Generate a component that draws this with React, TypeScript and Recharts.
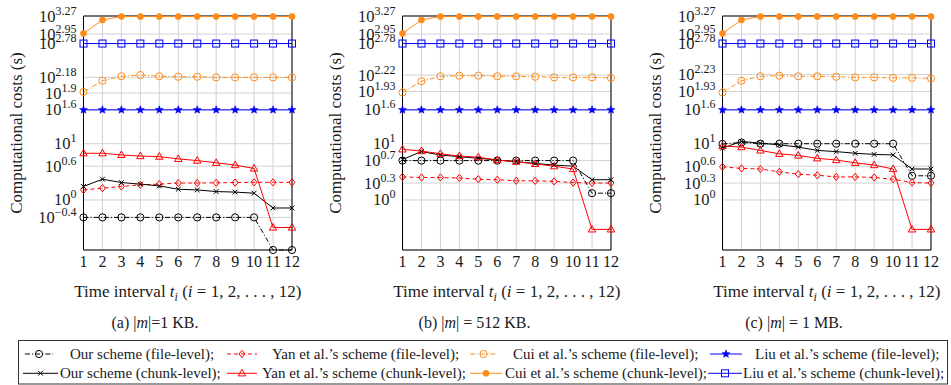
import React from 'react';
import { LineChart, Line, XAxis, YAxis, CartesianGrid, ReferenceArea } from 'recharts';

const FONT = '"Liberation Serif", "Times New Roman", serif';

// ---------- data ----------
const timeIntervals = [1, 2, 3, 4, 5, 6, 7, 8, 9, 10, 11, 12];

// (a) |m| = 1 KB
const ourFileA = [0.49, 0.49, 0.49, 0.49, 0.49, 0.49, 0.49, 0.49, 0.49, 0.49, 0.129, 0.129];
const ourChunkA = [1.74, 2.34, 2.04, 1.91, 1.78, 1.55, 1.51, 1.41, 1.38, 1.32, 0.72, 0.72];
const yanFileA = [1.51, 1.62, 1.74, 1.86, 1.91, 2.0, 2.0, 2.02, 2.04, 2.06, 2.06, 2.06];
const yanChunkA = [6.76, 6.76, 6.31, 6.03, 5.89, 5.37, 5.01, 4.57, 4.17, 3.63, 0.324, 0.324];
const cuiFileA = [83.2, 132, 158, 166, 158, 155, 155, 151, 151, 151, 151, 151];
const cuiChunkA = [912, 1585, 1820, 1820, 1820, 1820, 1820, 1820, 1820, 1820, 1820, 1820];
const liuFileA = [40, 40, 40, 40, 40, 40, 40, 40, 40, 40, 40, 40];
const liuChunkA = [603, 603, 603, 603, 603, 603, 603, 603, 603, 603, 603, 603];

// (b) |m| = 512 KB
const ourFileB = [5.01, 5.01, 5.01, 5.01, 5.01, 5.01, 5.01, 5.01, 5.01, 5.01, 1.32, 1.32];
const ourChunkB = [5.25, 7.24, 6.31, 5.89, 5.5, 5.13, 4.79, 4.47, 4.17, 3.98, 2.29, 2.29];
const yanFileB = [2.57, 2.51, 2.51, 2.45, 2.34, 2.29, 2.19, 2.19, 2.14, 2.04, 2.0, 2.0];
const yanChunkB = [7.94, 7.41, 6.61, 6.03, 5.75, 5.13, 4.79, 4.37, 3.98, 3.55, 0.3, 0.3];
const cuiFileB = [81.3, 129, 158, 162, 162, 158, 158, 155, 151, 151, 151, 148];
const cuiChunkB = [912, 1585, 1820, 1820, 1820, 1820, 1820, 1820, 1820, 1820, 1820, 1820];
const liuFileB = [40, 40, 40, 40, 40, 40, 40, 40, 40, 40, 40, 40];
const liuChunkB = [603, 603, 603, 603, 603, 603, 603, 603, 603, 603, 603, 603];

// (c) |m| = 1 MB
const ourFileC = [9.9, 10.5, 10, 10, 10, 10, 10, 10, 10, 10, 2.69, 2.69];
const ourChunkC = [8.32, 11.0, 10.2, 9.55, 8.71, 7.59, 7.24, 6.76, 6.46, 6.31, 3.55, 3.55];
const yanFileC = [3.89, 3.63, 3.55, 3.16, 2.88, 2.75, 2.57, 2.57, 2.51, 2.34, 2.04, 2.0];
const yanChunkC = [9.12, 8.71, 7.59, 6.61, 6.17, 5.5, 5.13, 4.57, 4.17, 3.55, 0.3, 0.3];
const cuiFileC = [81.3, 132, 158, 162, 158, 158, 155, 151, 151, 148, 148, 145];
const cuiChunkC = [912, 1585, 1820, 1820, 1820, 1820, 1820, 1820, 1820, 1820, 1820, 1820];
const liuFileC = [40, 40, 40, 40, 40, 40, 40, 40, 40, 40, 40, 40];
const liuChunkC = [603, 603, 603, 603, 603, 603, 603, 603, 603, 603, 603, 603];

// y ticks (values) and their exponent labels
const ticksA = [1862, 891.3, 602.6, 151.4, 79.43, 39.81, 10, 3.981, 1, 0.49];
const tickLabelsA = ['3.27', '2.95', '2.78', '2.18', '1.9', '1.6', '1', '0.6', '0', '\u22120.4'];
const ticksB = [1862, 891.3, 602.6, 166.0, 85.11, 39.81, 10, 5.012, 1.995, 1];
const tickLabelsB = ['3.27', '2.95', '2.78', '2.22', '1.93', '1.6', '1', '0.7', '0.3', '0'];
const ticksC = [1862, 891.3, 602.6, 169.8, 85.11, 39.81, 10, 3.981, 1.995, 1];
const tickLabelsC = ['3.27', '2.95', '2.78', '2.23', '1.93', '1.6', '1', '0.6', '0.3', '0'];

const yMin = 0.129;
const yMax = 1862;

const captions = ['(a)', '(b)', '(c)'];
const captionSizes = ['1 KB.', '512 KB.', '1 MB.'];

// ---------- styles ----------
type Shape = 'circle' | 'cross' | 'diamond' | 'triangle' | 'dot' | 'star' | 'square';
const ORANGE = '#ff8c1a';
const RED = '#ff0000';
const BLUE = '#0000ff';
const BLACK = '#000000';
const DASHDOT = '5 2 1.2 2';

const seriesStyles: { key: string; name: string; color: string; dash?: string; shape: Shape }[] = [
  { key: 'ourFile', name: 'Our scheme (file-level);', color: BLACK, dash: DASHDOT, shape: 'circle' },
  { key: 'yanFile', name: 'Yan et al.\u2019s scheme (file-level);', color: RED, dash: '4 3', shape: 'diamond' },
  { key: 'cuiFile', name: 'Cui et al.\u2019s scheme (file-level);', color: ORANGE, dash: DASHDOT, shape: 'circle' },
  { key: 'liuFile', name: 'Liu et al.\u2019s scheme (file-level);', color: BLUE, shape: 'star' },
  { key: 'ourChunk', name: 'Our scheme (chunk-level);', color: BLACK, shape: 'cross' },
  { key: 'yanChunk', name: 'Yan et al.\u2019s scheme (chunk-level);', color: RED, shape: 'triangle' },
  { key: 'cuiChunk', name: 'Cui et al.\u2019s scheme (chunk-level);', color: ORANGE, shape: 'dot' },
  { key: 'liuChunk', name: 'Liu et al.\u2019s scheme (chunk-level);', color: BLUE, shape: 'square' },
];

function buildRows(s: Record<string, number[]>) {
  return timeIntervals.map((t, i) => {
    const row: Record<string, number> = { t };
    Object.keys(s).forEach((k) => (row[k] = s[k][i]));
    return row;
  });
}

const panels = [
  {
    rows: buildRows({ ourFile: ourFileA, ourChunk: ourChunkA, yanFile: yanFileA, yanChunk: yanChunkA, cuiFile: cuiFileA, cuiChunk: cuiChunkA, liuFile: liuFileA, liuChunk: liuChunkA }),
    ticks: ticksA, labels: tickLabelsA, left: 0,
  },
  {
    rows: buildRows({ ourFile: ourFileB, ourChunk: ourChunkB, yanFile: yanFileB, yanChunk: yanChunkB, cuiFile: cuiFileB, cuiChunk: cuiChunkB, liuFile: liuFileB, liuChunk: liuChunkB }),
    ticks: ticksB, labels: tickLabelsB, left: 319.2,
  },
  {
    rows: buildRows({ ourFile: ourFileC, ourChunk: ourChunkC, yanFile: yanFileC, yanChunk: yanChunkC, cuiFile: cuiFileC, cuiChunk: cuiChunkC, liuFile: liuFileC, liuChunk: liuChunkC }),
    ticks: ticksC, labels: tickLabelsC, left: 638.5,
  },
];

// ---------- markers ----------
function Marker({ shape, cx, cy, color }: { shape: Shape; cx: number; cy: number; color: string }) {
  if (cx == null || cy == null || isNaN(cx) || isNaN(cy)) return <g />;
  switch (shape) {
    case 'circle':
      return <circle cx={cx} cy={cy} r={3.6} fill="none" stroke={color} strokeWidth={1} />;
    case 'cross':
      return (
        <g stroke={color} strokeWidth={1}>
          <line x1={cx - 2.4} y1={cy - 2.4} x2={cx + 2.4} y2={cy + 2.4} />
          <line x1={cx - 2.4} y1={cy + 2.4} x2={cx + 2.4} y2={cy - 2.4} />
        </g>
      );
    case 'diamond':
      return <polygon points={`${cx},${cy - 3.6} ${cx + 3},${cy} ${cx},${cy + 3.6} ${cx - 3},${cy}`} fill="none" stroke={color} strokeWidth={1} />;
    case 'triangle':
      return <polygon points={`${cx},${cy - 4} ${cx + 3.7},${cy + 2.6} ${cx - 3.7},${cy + 2.6}`} fill="none" stroke={color} strokeWidth={1} />;
    case 'dot':
      return <circle cx={cx} cy={cy} r={3} fill={color} stroke={color} strokeWidth={0.8} />;
    case 'star': {
      const pts: string[] = [];
      for (let i = 0; i < 10; i++) {
        const r = i % 2 === 0 ? 4.2 : 1.8;
        const a = -Math.PI / 2 + (i * Math.PI) / 5;
        pts.push(`${cx + r * Math.cos(a)},${cy + r * Math.sin(a)}`);
      }
      return <polygon points={pts.join(' ')} fill={color} stroke={color} strokeWidth={0.5} />;
    }
    case 'square':
      return <rect x={cx - 3.5} y={cy - 3.5} width={7} height={7} fill="none" stroke={color} strokeWidth={1} />;
  }
  return <g />;
}

// ---------- axis pieces ----------
function makeYTick(values: number[], labels: string[]) {
  return (props: any) => {
    const { x, y, payload } = props;
    const idx = values.indexOf(payload.value);
    const label = idx >= 0 ? labels[idx] : '';
    return (
      <text x={x - 7} y={y + 5.5} textAnchor="end" fontFamily={FONT} fontSize={16.5} fill="#1a1a1a">
        10<tspan dy={-7} fontSize={12}>{label}</tspan>
      </text>
    );
  };
}

const XTick = (props: any) => {
  const { x, y, payload } = props;
  return (
    <text x={x} y={y + 17} textAnchor="middle" fontFamily={FONT} fontSize={16} fill="#1a1a1a">
      {payload.value}
    </text>
  );
};

const XLabel = (props: any) => {
  const vb = props.viewBox || { x: 83.5, y: 250, width: 208.5 };
  const cx = vb.x + vb.width / 2;
  return (
    <text x={cx} y={vb.y + 47} textAnchor="middle" fontFamily={FONT} fontSize={17} fill="#1a1a1a">
      Time interval <tspan fontStyle="italic">t</tspan>
      <tspan fontStyle="italic" fontSize={12} dy={4}>i</tspan>
      <tspan dy={-4}> (</tspan>
      <tspan fontStyle="italic">i</tspan>
      <tspan> = 1, 2, . . . , 12)</tspan>
    </text>
  );
};

const YLabel = (props: any) => {
  const vb = props.viewBox || { x: 0, y: 16, width: 83.5, height: 234 };
  const cx = vb.x + vb.width - 66.5;
  const cy = vb.y + vb.height / 2;
  return (
    <text
      transform={`rotate(-90, ${cx}, ${cy})`}
      x={cx}
      y={cy + 5}
      textAnchor="middle"
      fontFamily={FONT}
      fontSize={17}
      fill="#1a1a1a"
    >
      Computational costs (s)
    </text>
  );
};

function Panel({ rows, ticks, labels }: { rows: any[]; ticks: number[]; labels: string[] }) {
  return (
    <LineChart width={310} height={310} data={rows} margin={{ top: 16, right: 18, left: 0, bottom: 10 }}>
      <CartesianGrid stroke="#d2d2d2" strokeWidth={1} />
      <XAxis
        dataKey="t"
        type="number"
        domain={[1, 12]}
        ticks={timeIntervals}
        interval={0}
        axisLine={false}
        tickLine={false}
        tickSize={0}
        tickMargin={0}
        height={50}
        tick={XTick}
        label={<XLabel />}
      />
      <YAxis
        type="number"
        scale="log"
        domain={[yMin, yMax]}
        ticks={ticks}
        interval={0}
        axisLine={false}
        tickLine={false}
        tickSize={0}
        tickMargin={0}
        width={83.5}
        tick={makeYTick(ticks, labels)}
        label={<YLabel />}
      />
      <ReferenceArea x1={1} x2={12} y1={yMin} y2={yMax} fill="none" stroke="#000" strokeWidth={1} ifOverflow="visible" />
      {seriesStyles.map((s) => (
        <Line
          key={s.key}
          dataKey={s.key}
          type="linear"
          stroke={s.color}
          strokeWidth={1}
          strokeDasharray={s.dash}
          isAnimationActive={false}
          activeDot={false}
          dot={(p: any) => <Marker key={`${s.key}-${p.index}`} shape={s.shape} cx={p.cx} cy={p.cy} color={s.color} />}
        />
      ))}
    </LineChart>
  );
}

// legend layout: [sampleStart, sampleEnd, textStart]
const legendLayout = [
  [[25, 53, 70], [227, 257, 272], [470, 497, 513], [710, 742, 755]],
  [[23, 58, 60], [227, 257, 262], [470, 502, 505], [708, 742, 743]],
];

function Legend() {
  const rowsY = [54, 73.3];
  return (
    <svg width={951} height={85} style={{ position: 'absolute', left: 0, top: 300 }}>
      {captions.map((c, i) => (
        <text key={c} x={155 + i * 319.5} y={28} textAnchor="middle" fontFamily={FONT} fontSize={16} fill="#1a1a1a">
          {c} |<tspan fontStyle="italic">m</tspan>|{i === 0 ? '=' : ' = '}{captionSizes[i]}
        </text>
      ))}
      <rect x={18.5} y={40.5} width={929} height={43.5} fill="none" stroke="#333" strokeWidth={1} />
      {legendLayout.map((row, r) =>
        row.map((col, c) => {
          const s = seriesStyles[r * 4 + c];
          const y = rowsY[r];
          const mid = (col[0] + col[1]) / 2;
          return (
            <g key={s.key}>
              <line x1={col[0]} y1={y} x2={col[1]} y2={y} stroke={s.color} strokeWidth={1} strokeDasharray={s.dash} />
              <Marker shape={s.shape} cx={mid} cy={y} color={s.color} />
              <text x={col[2]} y={y + 5} fontFamily={FONT} fontSize={15} fill="#1a1a1a">
                {s.name}
              </text>
            </g>
          );
        })
      )}
    </svg>
  );
}

export default function App() {
  return (
    <div style={{ position: 'absolute', left: 0, top: 0, width: 951, height: 385, background: '#fff', overflow: 'hidden' }}>
      {panels.map((p, i) => (
        <div key={i} style={{ position: 'absolute', left: p.left, top: 0 }}>
          <Panel rows={p.rows} ticks={p.ticks} labels={p.labels} />
        </div>
      ))}
      <Legend />
    </div>
  );
}
